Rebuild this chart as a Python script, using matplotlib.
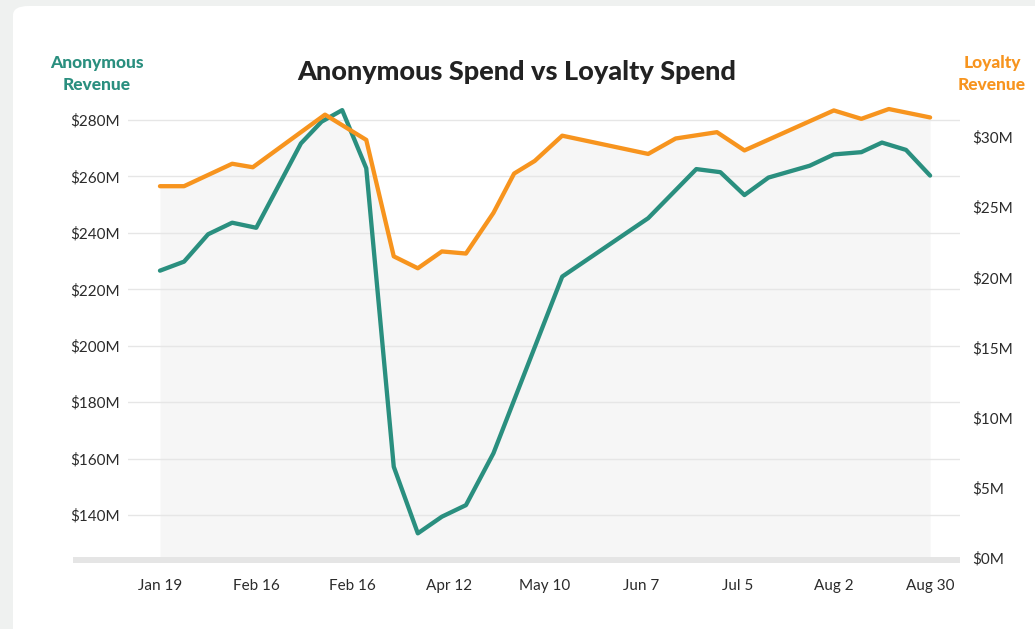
import matplotlib.pyplot as plt
from matplotlib.patches import FancyBboxPatch, Rectangle

plt.rcParams['font.family'] = ['Lato', 'DejaVu Sans']

# x positions are days since Jan 19
tick_days = [0, 28, 56, 84, 112, 140, 168, 196, 224]
tick_labels = ["Jan 19", "Feb 16", "Feb 16", "Apr 12", "May 10", "Jun 7", "Jul 5", "Aug 2", "Aug 30"]

anon_days = [0, 7, 14, 21, 28, 41, 47, 53, 60, 68, 75, 82, 89, 97, 117, 142,
             156, 163, 170, 177, 189, 196, 204, 210, 217, 224]
anon_rev = [226.6, 229.8, 239.5, 243.6, 241.8, 271.7, 279.4, 283.5, 262.9, 157.1,
            133.5, 139.4, 143.5, 161.9, 224.5, 245.2, 262.6, 261.5, 253.4, 259.6,
            263.8, 267.8, 268.6, 272.0, 269.4, 260.3]

loyal_days = [0, 7, 21, 27, 48, 60, 68, 75, 82, 89, 97, 103, 109, 117, 142, 150,
              162, 170, 196, 204, 212, 224]
loyal_rev = [26.5, 26.5, 28.1, 27.85, 31.6, 29.8, 21.5, 20.65, 21.85, 21.7, 24.6,
             27.4, 28.3, 30.1, 28.8, 29.9, 30.35, 29.05, 31.9, 31.3, 32.0, 31.4]

left_ticks = [140, 160, 180, 200, 220, 240, 260, 280]
right_ticks = [0, 5, 10, 15, 20, 25, 30]

teal = '#2a8f7f'
orange = '#f7941e'
text_c = '#2b2b2b'

W, H = 1035, 629
fig = plt.figure(figsize=(W / 100, H / 100), dpi=100, facecolor='#eff1f0')

# white card behind everything
card = FancyBboxPatch((13 / W, 1 - 640 / H), 1040 / W, 634 / H,
                      boxstyle="round,pad=0,rounding_size=0.015",
                      transform=fig.transFigure, facecolor='white',
                      edgecolor='none', zorder=-10)
fig.patches.append(card)

rect = [128 / W, (H - 558) / H, (960 - 128) / W, (558 - 95) / H]
xlim = (-9.3, 232.7)

# base axes: fill under loyalty line (right scale)
ax_f = fig.add_axes(rect)
ax_f.fill_between(loyal_days, loyal_rev, 0, color='#f6f6f6', lw=0)
ax_f.set_xlim(xlim)
ax_f.set_ylim(0, 33)
ax_f.axis('off')

# left axis: anonymous revenue
ax1 = fig.add_axes(rect)
ax1.patch.set_visible(False)
ax1.set_xlim(xlim)
ax1.set_ylim(124.76, 288.86)
for v in left_ticks:
    ax1.axhline(v, color='#e6e6e6', lw=1, zorder=1)
ax1.plot(anon_days, anon_rev, color=teal, lw=3.1, solid_joinstyle='round',
         solid_capstyle='round', zorder=3)
ax1.set_yticks(left_ticks)
ax1.set_yticklabels(['$%dM' % v for v in left_ticks])
ax1.set_xticks(tick_days)
ax1.set_xticklabels(tick_labels)
ax1.tick_params(axis='y', length=0, pad=6, labelsize=11, labelcolor=text_c)
ax1.tick_params(axis='x', length=0, pad=15, labelsize=11, labelcolor=text_c)
for s in ax1.spines.values():
    s.set_visible(False)

# right axis: loyalty revenue
ax2 = ax1.twinx()
ax2.set_xlim(xlim)
ax2.set_ylim(0, 33)
ax2.plot(loyal_days, loyal_rev, color=orange, lw=3.1, solid_joinstyle='round',
         solid_capstyle='round', zorder=4)
ax2.set_yticks(right_ticks)
ax2.set_yticklabels(['$%dM' % v for v in right_ticks])
ax2.tick_params(axis='y', length=0, pad=9, labelsize=11, labelcolor=text_c)
for s in ax2.spines.values():
    s.set_visible(False)

# bottom band
fig.patches.append(Rectangle((73 / W, (H - 563) / H), (960 - 73) / W, 6 / H,
                             transform=fig.transFigure, facecolor='#e5e5e5',
                             edgecolor='none', zorder=5))

fig.text(517 / W, 1 - 72 / H, "Anonymous Spend vs Loyalty Spend", ha='center',
         va='center', fontsize=19.5, fontweight='black', color='#222222')
fig.text(97 / W, 1 - 74 / H, "Anonymous\nRevenue", ha='center', va='center',
         fontsize=12.5, fontweight='black', color=teal, linespacing=1.4)
fig.text(992 / W, 1 - 74 / H, "Loyalty\nRevenue", ha='center', va='center',
         fontsize=12.5, fontweight='black', color=orange, linespacing=1.4)

fig.savefig('out.png', dpi=100, facecolor=fig.get_facecolor())
